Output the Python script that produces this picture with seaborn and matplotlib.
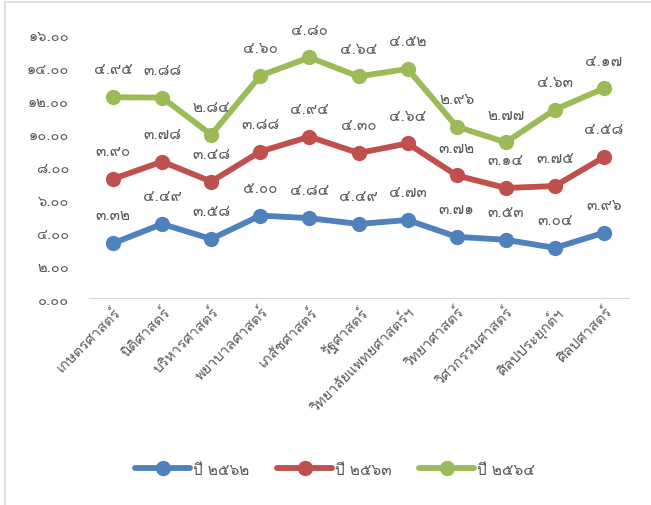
import pandas as pd
import numpy as np
import seaborn as sns
import matplotlib.pyplot as plt
from matplotlib.lines import Line2D

categories = ["เกษตรศาสตร์", "นิติศาสตร์", "บริหารศาสตร์", "พยาบาลศาสตร์", "เภสัชศาสตร์",
              "รัฐศาสตร์", "วิทยาลัยแพทยศาสตร์ฯ", "วิทยาศาสตร์", "วิศวกรรมศาสตร์",
              "ศิลปประยุกต์ฯ", "ศิลปศาสตร์"]
series_names = ["ปี ๒๕๖๒", "ปี ๒๕๖๓", "ปี ๒๕๖๔"]
y2562 = [3.32, 4.49, 3.58, 5.00, 4.84, 4.49, 4.73, 3.71, 3.53, 3.04, 3.96]
y2563 = [3.90, 3.78, 3.48, 3.88, 4.94, 4.30, 4.64, 3.72, 3.14, 3.75, 4.58]
y2564 = [4.95, 3.88, 2.84, 4.60, 4.80, 4.64, 4.52, 2.96, 2.77, 4.63, 4.17]
colours = ["#4F81BD", "#C0504D", "#9BBB59"]

thai_digits = str.maketrans("0123456789", "๐๑๒๓๔๕๖๗๘๙")
def th(v):
    return f"{v:.2f}".translate(thai_digits)

sns.set_style("white")
plt.rcParams['font.family'] = ['Loma', 'Noto Sans Thai Looped', 'DejaVu Sans']
text_col = "#595959"

# stacked line chart (each series sits on top of the previous)
stacked = np.cumsum([y2562, y2563, y2564], axis=0)
rows = []
for name, raw, cum in zip(series_names, [y2562, y2563, y2564], stacked):
    for c, r, s in zip(categories, raw, cum):
        rows.append({"cat": c, "year": name, "raw": r, "value": s})
df = pd.DataFrame(rows)

fig = plt.figure(figsize=(6.51, 5.06), dpi=100)
ax = fig.add_axes([0.136, 0.409, 0.8295, 0.5217])
sns.lineplot(data=df, x="cat", y="value", hue="year", palette=colours, sort=False,
             marker="o", markersize=11, markeredgewidth=0, linewidth=4.2, ax=ax, legend=False)

for _, r in df.iterrows():
    ax.annotate(th(r["raw"]), (r["cat"], r["value"]), xytext=(0, 20), textcoords="offset points",
                ha="center", va="center", fontsize=11, color=text_col)

ax.set_xlim(-0.5, len(categories) - 0.5)
ax.set_ylim(0, 16)
ax.set_yticks(np.arange(0, 17, 2))
ax.set_yticklabels([th(v) for v in np.arange(0, 17, 2)], fontsize=10.5, color=text_col)
ax.set_xticks(range(len(categories)))
ax.set_xticklabels(categories, rotation=45, ha="right", rotation_mode="anchor", fontsize=10.5, color=text_col)
ax.tick_params(axis="y", length=0, pad=14)
ax.tick_params(axis="x", length=0, pad=4)
ax.set_xlabel("")
ax.set_ylabel("")
for s in ["top", "right", "left"]:
    ax.spines[s].set_visible(False)
ax.spines["bottom"].set_color("#D9D9D9")

handles = [Line2D([], [], color=c, lw=4.2, marker="o", markersize=11, markeredgewidth=0) for c in colours]
fig.legend(handles, series_names, loc="center", bbox_to_anchor=(0.515, 0.07), ncol=3, frameon=False,
           fontsize=11, labelcolor=text_col, handlelength=3.6, handletextpad=0.2, columnspacing=1.8)

fig.add_artist(Line2D([0.007, 0.007], [0, 0.994], color="#D9D9D9", lw=1.2))
fig.add_artist(Line2D([0.007, 1], [0.994, 0.994], color="#D9D9D9", lw=1.2))

fig.savefig("out.png", dpi=100)
